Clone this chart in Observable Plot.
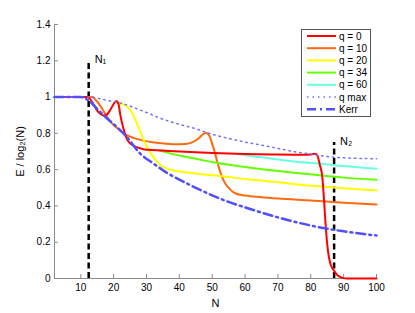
<!DOCTYPE html>
<html>
<head>
<meta charset="utf-8">
<script src="https://cdn.jsdelivr.net/npm/d3@7"></script>
<script src="https://cdn.jsdelivr.net/npm/@observablehq/plot@0.6"></script>
<style>
  body { margin: 0; background: #fff; font-family: "Liberation Sans", Arial, sans-serif; }
  #wrap { position: relative; width: 415px; height: 313px; }
  #legend { position: absolute; left: 301px; top: 29px; }
</style>
</head>
<body>
<div id="wrap"></div>
<script>
// ---- data ----
const xTicks = [10, 20, 30, 40, 50, 60, 70, 80, 90, 100];
const yTicks = [0, 0.2, 0.4, 0.6, 0.8, 1, 1.2, 1.4];

const q0N = [2, 12, 13, 14, 15, 16, 17, 18, 19, 20, 20.8, 21.5, 22, 23, 24, 25, 26.6, 28, 30, 35, 40, 50, 60, 70, 78, 80, 81.3, 82, 82.7, 83.5, 84, 84.5, 85, 85.5, 86, 87, 88, 89, 90, 91, 100];
const q0E = [1, 1, 0.985, 0.955, 0.925, 0.907, 0.899, 0.905, 0.93, 0.962, 0.978, 0.96, 0.905, 0.825, 0.77, 0.745, 0.727, 0.718, 0.71, 0.705, 0.7, 0.692, 0.686, 0.683, 0.682, 0.684, 0.687, 0.678, 0.63, 0.56, 0.44, 0.3, 0.19, 0.12, 0.08, 0.045, 0.02, 0.008, 0.002, 0, 0];

const q10N = [12, 13.5, 14.5, 16, 17, 19, 21, 23, 26, 29, 33, 38, 42, 44, 46, 47, 48, 49, 50, 51, 52, 53, 54, 55.5, 57, 60, 65, 70, 80, 90, 100];
const q10E = [1, 1, 0.985, 0.95, 0.92, 0.865, 0.83, 0.8, 0.775, 0.76, 0.748, 0.74, 0.742, 0.752, 0.775, 0.792, 0.803, 0.79, 0.742, 0.68, 0.614, 0.56, 0.522, 0.49, 0.47, 0.457, 0.448, 0.441, 0.43, 0.418, 0.408];

const q20N = [20.5, 22, 23.5, 25, 26.5, 28, 30, 32, 34, 36, 38.3, 42, 46, 52.5, 60, 70, 83, 90, 100];
const q20E = [0.972, 0.965, 0.955, 0.93, 0.88, 0.815, 0.73, 0.67, 0.628, 0.607, 0.595, 0.585, 0.576, 0.565, 0.548, 0.53, 0.507, 0.497, 0.485];

const q34N = [34, 36, 40, 45, 50, 55.6, 60, 70, 83, 90, 100];
const q34E = [0.705, 0.695, 0.678, 0.66, 0.642, 0.625, 0.614, 0.592, 0.568, 0.556, 0.544];

const q60N = [58, 60, 65, 70, 77, 83, 90, 100];
const q60E = [0.685, 0.68, 0.668, 0.656, 0.641, 0.633, 0.62, 0.605];

const qmaxN = [2, 12, 14, 16, 18, 20, 22, 25, 30, 35, 40, 45, 48, 50, 55, 60, 65, 70, 75, 80, 82, 85, 90, 95, 100];
const qmaxE = [1, 1, 0.998, 0.99, 0.982, 0.975, 0.968, 0.95, 0.915, 0.878, 0.85, 0.825, 0.806, 0.795, 0.772, 0.752, 0.735, 0.717, 0.699, 0.686, 0.68, 0.672, 0.665, 0.662, 0.66];

const kerrN = [2, 10, 11, 12, 13, 15, 18, 21, 24, 28, 32, 36, 40, 45, 50, 55, 60, 70, 80, 90, 100];
const kerrE = [1, 1, 0.995, 0.985, 0.972, 0.935, 0.882, 0.835, 0.78, 0.69, 0.635, 0.585, 0.545, 0.5, 0.458, 0.422, 0.392, 0.337, 0.292, 0.26, 0.237];

const markerNames = ["N\u2081", "N\u2082"];
const markerN = [12.4, 87.1];
const markerTop = [1.2, 0.75];

// ---- series styling ----
const series = [
  {label: "q = 0",  N: q0N,   E: q0E,   color: "#ff0000", width: 2,   dash: null},
  {label: "q = 10", N: q10N,  E: q10E,  color: "#ff6a10", width: 2,   dash: null},
  {label: "q = 20", N: q20N,  E: q20E,  color: "#ffff00", width: 2,   dash: null},
  {label: "q = 34", N: q34N,  E: q34E,  color: "#66ff00", width: 2,   dash: null},
  {label: "q = 60", N: q60N,  E: q60E,  color: "#66ffe0", width: 2,   dash: null},
  {label: "q max",  N: qmaxN, E: qmaxE, color: "#6e6eff", width: 1.5, dash: "1.5,4"},
  {label: "Kerr",   N: kerrN, E: kerrE, color: "#4f4fff", width: 2.5, dash: "9,4,2,4"}
];
const drawOrder = ["q = 10", "q = 20", "q = 34", "q = 60", "q = 0", "q max", "Kerr"];

const toRows = s => s.N.map((n, i) => ({N: n, E: s.E[i]}));
const markers = markerNames.map((name, i) => ({name, N: markerN[i], top: markerTop[i]}));

const lineMarks = drawOrder.map(lbl => {
  const s = series.find(d => d.label === lbl);
  return Plot.line(toRows(s), {
    x: "N", y: "E", stroke: s.color, strokeWidth: s.width,
    strokeDasharray: s.dash, curve: "monotone-x"
  });
});

const axisGray = "#8c8c8c";
const fmtY = d => String(+d.toFixed(1));

const chart = Plot.plot({
  width: 415,
  height: 313,
  marginLeft: 54,
  marginRight: 39,
  marginTop: 24,
  marginBottom: 35,
  style: {fontFamily: "'Liberation Sans', Arial, sans-serif", fontSize: "10px", background: "#fff", color: "#000"},
  x: {domain: [2, 100]},
  y: {domain: [0, 1.4]},
  marks: [
    // axis lines
    Plot.ruleX([2], {stroke: axisGray}),
    Plot.ruleY([0], {stroke: axisGray}),
    // axes with inward ticks (negative tick size)
    Plot.axisX({ticks: xTicks, tickSize: -4, tickPadding: 9, stroke: axisGray, fill: "#000",
      label: "N", labelAnchor: "center", labelOffset: 28, labelArrow: "none", fontSize: 10}),
    Plot.axisY({ticks: yTicks, tickSize: -4, tickPadding: 8, stroke: axisGray, fill: "#000",
      tickFormat: fmtY, label: "E / log\u2082(N)", labelAnchor: "center", labelOffset: 38, labelArrow: "none", fontSize: 10}),
    // N1 / N2 markers
    Plot.ruleX(markers, {x: "N", y1: 0, y2: "top", stroke: "#000", strokeWidth: 2.5, strokeDasharray: "6,3.5"}),
    ...lineMarks,
    Plot.text(markers, {x: "N", y: "top", text: "name", textAnchor: "start", dx: 6, dy: -1, fontSize: 11, fill: "#000"})
  ]
});

// enlarge the axis titles a little
chart.querySelectorAll("[aria-label$='axis label'] text, [aria-label$='axis label']").forEach(el => {
  el.setAttribute("font-size", "11");
});

const wrap = document.getElementById("wrap");
wrap.appendChild(chart);

// ---- legend box (HTML overlay) ----
const lw = 70, lh = 88, rowH = 12.2, y0 = 7;
const leg = d3.create("svg")
  .attr("id", "legend")
  .attr("width", lw)
  .attr("height", lh)
  .style("font-family", "'Liberation Sans', Arial, sans-serif")
  .style("font-size", "10px");
leg.append("rect").attr("x", 0.5).attr("y", 0.5).attr("width", lw - 1).attr("height", lh - 1)
  .attr("fill", "#fff").attr("stroke", "#555");
series.forEach((s, i) => {
  const y = y0 + i * rowH;
  leg.append("line").attr("x1", 6).attr("x2", 35).attr("y1", y).attr("y2", y)
    .attr("stroke", s.color).attr("stroke-width", s.width)
    .attr("stroke-dasharray", s.dash);
  leg.append("text").attr("x", 38).attr("y", y).attr("dy", "0.35em").attr("fill", "#000").text(s.label);
});
wrap.appendChild(leg.node());
</script>
</body>
</html>
